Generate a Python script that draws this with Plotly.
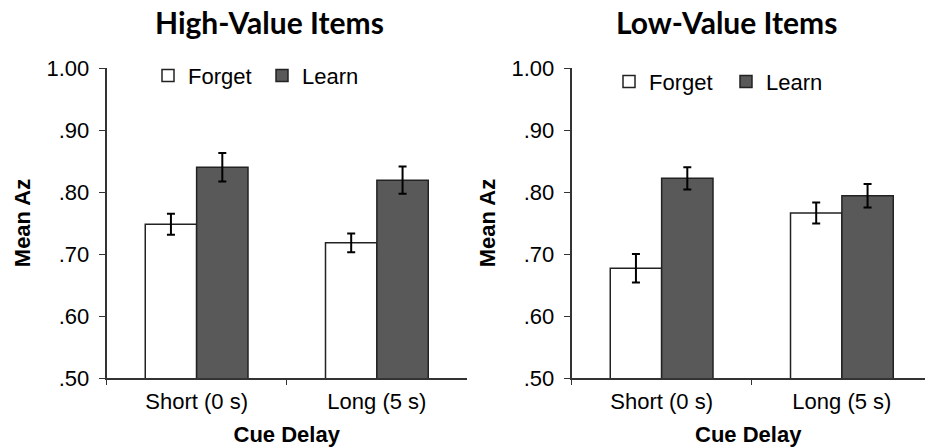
import plotly.graph_objects as go

# ---- data ----
categories = ["Short (0 s)", "Long (5 s)"]
high_forget = [0.748, 0.718]
high_forget_err = [0.017, 0.015]
high_learn = [0.840, 0.819]
high_learn_err = [0.023, 0.022]
low_forget = [0.677, 0.766]
low_forget_err = [0.023, 0.017]
low_learn = [0.822, 0.794]
low_learn_err = [0.018, 0.019]
y_ticks = [0.5, 0.6, 0.7, 0.8, 0.9, 1.0]
y_tick_labels = [".50", ".60", ".70", ".80", ".90", "1.00"]
panel_titles = ["High-Value Items", "Low-Value Items"]

W, H = 925, 447
TOP, BOT = 68.3, 378.0


def px2x(px):
    return px / W


def py2y(py):
    return (BOT - py) / (BOT - TOP)


FONT = "Liberation Sans, Arial, sans-serif"
FS = 22
LEARN_FILL = "#595959"
EDGE = "#222222"

fig = go.Figure()

def add_pair(forget, ferr, learn, lerr, xa, ya, legend):
    fig.add_trace(go.Bar(
        x=categories, y=forget, name="Forget", xaxis=xa, yaxis=ya, legend=legend,
        marker=dict(color="white", line=dict(color=EDGE, width=1.5)),
        error_y=dict(type="data", array=ferr, color="black", thickness=2, width=4),
    ))
    fig.add_trace(go.Bar(
        x=categories, y=learn, name="Learn", xaxis=xa, yaxis=ya, legend=legend,
        marker=dict(color=LEARN_FILL, line=dict(color=EDGE, width=1.5)),
        error_y=dict(type="data", array=lerr, color="black", thickness=2, width=4),
    ))

add_pair(high_forget, high_forget_err, high_learn, high_learn_err, "x", "y", "legend")
add_pair(low_forget, low_forget_err, low_learn, low_learn_err, "x2", "y2", "legend2")

xcommon = dict(
    type="category", showline=True, linecolor="#333333", linewidth=1.5,
    ticks="outside", tickson="boundaries", ticklen=5, tickcolor="#333333",
    tickfont=dict(family=FONT, size=FS, color="black"), showgrid=False,
    zeroline=False, automargin=False, ticklabelstandoff=3,
    title=dict(text="<b>Cue Delay</b>", font=dict(family=FONT, size=FS, color="black"), standoff=14),
)
ycommon = dict(
    range=[0.5, 1.0], tickvals=y_ticks, ticktext=y_tick_labels,
    showline=True, linecolor="#333333", linewidth=1.5,
    ticks="outside", ticklen=6, tickcolor="#333333",
    tickfont=dict(family=FONT, size=FS, color="black"), showgrid=False,
    zeroline=False, automargin=False, ticklabelstandoff=5,
    title=dict(text="<b>Mean Az</b>", font=dict(family=FONT, size=FS, color="black"), standoff=10),
)

legend_font = dict(family=FONT, size=FS, color="black")

fig.update_layout(
    width=W, height=H,
    margin=dict(l=0, r=0, t=TOP, b=H - BOT),
    paper_bgcolor="white", plot_bgcolor="white",
    barmode="group", bargap=0.43, bargroupgap=0,
    xaxis=dict(domain=[px2x(106.5), px2x(467)], range=[-0.5, 1.5], anchor="y", **xcommon),
    yaxis=dict(domain=[0, 1], anchor="x", **ycommon),
    xaxis2=dict(domain=[px2x(571.5), 1.0], range=[-0.5, 1.5 - 7 / 180], anchor="y2", **xcommon),
    yaxis2=dict(domain=[0, 1], anchor="x2", **ycommon),
    legend=dict(orientation="h", x=px2x(148), y=py2y(76), xanchor="left", yanchor="middle",
                font=legend_font, entrywidth=69,
                bgcolor="rgba(0,0,0,0)", itemclick=False),
    legend2=dict(orientation="h", x=px2x(609), y=py2y(82), xanchor="left", yanchor="middle",
                 font=legend_font, entrywidth=72,
                 bgcolor="rgba(0,0,0,0)", itemclick=False),
    showlegend=True,
    annotations=[
        dict(text="<b>" + panel_titles[0] + "</b>", x=px2x(269), y=py2y(22), xref="paper", yref="paper",
             showarrow=False, xanchor="center", yanchor="middle",
             font=dict(family="Lato, Open Sans, sans-serif", size=30, color="black")),
        dict(text="<b>" + panel_titles[1] + "</b>", x=px2x(726), y=py2y(22), xref="paper", yref="paper",
             showarrow=False, xanchor="center", yanchor="middle",
             font=dict(family="Lato, Open Sans, sans-serif", size=30, color="black")),
    ],
)

fig.write_html("out.html", config={"displayModeBar": False},
               post_script="document.body.style.margin='0';")
